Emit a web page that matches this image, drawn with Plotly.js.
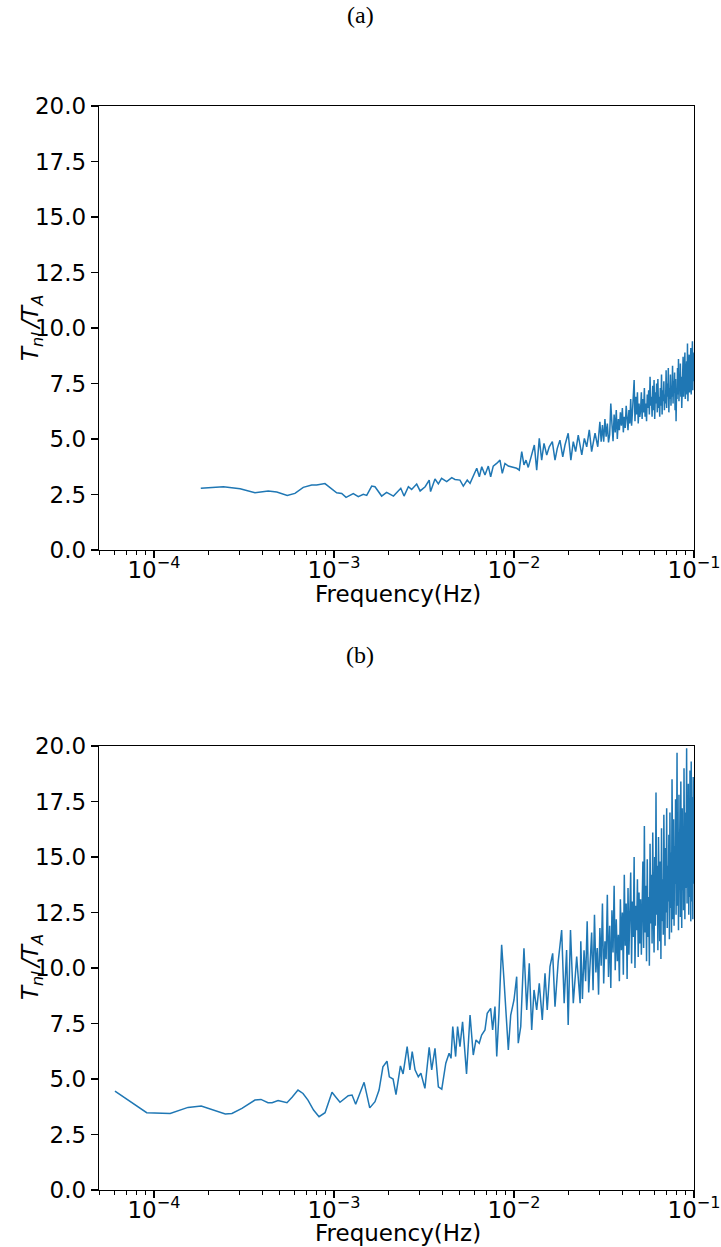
<!DOCTYPE html>
<html>
<head>
<meta charset="utf-8">
<script src="https://cdn.plot.ly/plotly-3.0.1.min.js"></script>
<style>
html,body{margin:0;padding:0;background:#fff;}
#chart{width:721px;height:1247px;}
</style>
</head>
<body>
<div id="chart"></div>
<script>
// ---------- Panel (a): low / mid frequencies ----------
const freqA_low = [
  1.82e-4, 2.43e-4, 3.01e-4, 3.64e-4, 4.31e-4, 4.81e-4, 5.50e-4, 6.07e-4, 6.75e-4, 7.52e-4,
  8.01e-4, 8.91e-4, 1.035e-3, 1.104e-3, 1.167e-3, 1.28e-3, 1.365e-3, 1.455e-3, 1.52e-3, 1.62e-3,
  1.69e-3, 1.84e-3, 1.96e-3, 2.14e-3, 2.35e-3, 2.45e-3, 2.59e-3, 2.70e-3, 2.88e-3, 3.01e-3,
  3.21e-3, 3.38e-3, 3.44e-3, 3.64e-3, 3.80e-3, 3.96e-3, 4.23e-3, 4.51e-3, 4.70e-3, 5.01e-3,
  5.23e-3, 5.50e-3, 5.70e-3, 5.94e-3, 6.21e-3, 6.42e-3, 6.62e-3, 6.90e-3, 7.20e-3, 7.42e-3,
  7.67e-3, 8.01e-3, 8.36e-3, 8.61e-3, 8.91e-3, 9.30e-3, 9.84e-3, 1.035e-2, 1.07e-2, 1.104e-2,
  1.136e-2, 1.166e-2, 1.20e-2, 1.254e-2, 1.297e-2, 1.337e-2, 1.382e-2, 1.425e-2, 1.468e-2, 1.52e-2,
  1.57e-2, 1.633e-2, 1.69e-2, 1.74e-2, 1.80e-2, 1.866e-2, 1.92e-2, 2.00e-2, 2.07e-2, 2.135e-2,
  2.20e-2, 2.275e-2, 2.38e-2, 2.46e-2, 2.535e-2, 2.62e-2, 2.70e-2, 2.82e-2, 2.92e-2, 3.00e-2,
  0.0305, 0.031, 0.0315, 0.032, 0.0325, 0.033, 0.0335, 0.034, 0.0345, 0.035,
  0.0355, 0.036, 0.0365, 0.037, 0.0375, 0.038, 0.0385, 0.039, 0.0395, 0.040,
  0.0405, 0.041, 0.0415, 0.042, 0.0425, 0.043, 0.0435, 0.044, 0.0445, 0.045,
  0.0455, 0.046, 0.0465, 0.047, 0.0475, 0.048, 0.0485, 0.049, 0.0495, 0.050
];
const ratioA_low = [
  2.78, 2.85, 2.76, 2.58, 2.66, 2.61, 2.46, 2.55, 2.82, 2.93,
  2.93, 2.99, 2.58, 2.55, 2.37, 2.54, 2.40, 2.51, 2.46, 2.88,
  2.85, 2.43, 2.60, 2.43, 2.78, 2.43, 2.85, 2.73, 2.97, 2.66,
  2.85, 3.15, 2.63, 3.20, 2.98, 3.23, 3.08, 3.26, 3.18, 3.15,
  2.88, 3.15, 3.00, 3.30, 3.68, 3.30, 3.75, 3.38, 3.78, 3.30,
  3.78, 3.90, 4.05, 3.45, 3.90, 3.78, 3.72, 3.68, 3.60, 4.43,
  3.83, 4.05, 3.72, 4.28, 4.73, 3.60, 5.03, 4.05, 4.80, 4.28,
  4.65, 4.88, 4.05, 4.58, 4.95, 4.20, 4.73, 5.26, 4.05, 4.88,
  4.43, 5.18, 4.28, 5.03, 4.65, 5.41, 4.43, 5.26, 4.65, 5.78,
  4.88, 5.63, 4.88, 5.90, 5.10, 5.70, 4.85, 5.20, 6.60, 5.70,
  4.90, 6.10, 5.30, 6.30, 5.00, 5.90, 5.40, 6.20, 5.60, 6.40,
  5.30, 6.00, 5.50, 6.50, 5.90, 5.40, 6.30, 5.70, 6.80, 5.60,
  6.20, 6.80, 7.66, 5.80, 6.90, 6.10, 7.10, 5.70, 6.60, 6.00
];

// ---------- shared high-frequency grid (Hz) ----------
const freqHigh = [
  0.0505, 0.051, 0.0515, 0.052, 0.0525, 0.053, 0.0535, 0.054, 0.0545, 0.055,
  0.0555, 0.056, 0.0565, 0.057, 0.0575, 0.058, 0.0585, 0.059, 0.0595, 0.060,
  0.0605, 0.061, 0.0615, 0.062, 0.0625, 0.063, 0.0635, 0.064, 0.0645, 0.065,
  0.0655, 0.066, 0.0665, 0.067, 0.0675, 0.068, 0.0685, 0.069, 0.0695, 0.070,
  0.0705, 0.071, 0.0715, 0.072, 0.0725, 0.073, 0.0735, 0.074, 0.0745, 0.075,
  0.0755, 0.076, 0.0765, 0.077, 0.0775, 0.078, 0.0785, 0.079, 0.0795, 0.080,
  0.0805, 0.081, 0.0815, 0.082, 0.0825, 0.083, 0.0835, 0.084, 0.0845, 0.085,
  0.0855, 0.086, 0.0865, 0.087, 0.0875, 0.088, 0.0885, 0.089, 0.0895, 0.090,
  0.0905, 0.091, 0.0915, 0.092, 0.0925, 0.093, 0.0935, 0.094, 0.0945, 0.095,
  0.0955, 0.096, 0.0965, 0.097, 0.0975, 0.098, 0.0985, 0.099, 0.0995, 0.100
];
const ratioA_high = [
  6.3, 7.1, 5.9, 6.8, 6.2, 7.3, 6.0, 6.6, 5.8, 7.0,
  6.4, 7.2, 6.1, 7.8, 6.5, 6.9, 6.0, 7.4, 6.3, 7.66,
  5.9, 7.1, 6.6, 7.5, 6.2, 7.7, 6.4, 6.9, 6.0, 7.3,
  6.5, 7.9, 6.1, 7.2, 6.7, 7.6, 6.3, 7.0, 6.6, 8.1,
  6.4, 7.5, 6.9, 8.2, 6.2, 7.3, 6.8, 7.9, 6.5, 7.4,
  6.9, 8.3, 6.6, 7.6, 7.1, 8.0, 6.3, 7.7, 5.8, 7.2,
  6.8, 8.2, 7.0, 8.6, 6.7, 7.5, 7.2, 8.4, 6.9, 7.8,
  6.4, 8.1, 7.3, 8.7, 6.9, 7.9, 7.4, 8.9, 6.8, 8.0,
  7.2, 8.5, 7.0, 9.3, 6.7, 8.2, 7.6, 8.8, 7.1, 8.4,
  7.5, 9.1, 7.0, 8.6, 7.8, 9.4, 7.2, 8.9, 7.6, 8.3
];

// ---------- Panel (b): low / mid frequencies ----------
const freqB_low = [
  6.07e-5, 9.11e-5, 1.23e-4, 1.545e-4, 1.83e-4, 2.10e-4, 2.49e-4, 2.71e-4, 3.08e-4, 3.64e-4,
  3.93e-4, 4.30e-4, 4.53e-4, 4.89e-4, 5.48e-4, 5.85e-4, 6.31e-4, 6.73e-4, 7.17e-4, 7.70e-4,
  8.26e-4, 8.92e-4, 9.75e-4, 1.02e-3, 1.08e-3, 1.20e-3, 1.26e-3, 1.32e-3, 1.47e-3, 1.58e-3,
  1.69e-3, 1.78e-3, 1.87e-3, 1.97e-3, 2.03e-3, 2.13e-3, 2.21e-3, 2.34e-3, 2.42e-3, 2.55e-3,
  2.64e-3, 2.72e-3, 2.82e-3, 2.94e-3, 3.04e-3, 3.20e-3, 3.38e-3, 3.49e-3, 3.64e-3, 3.80e-3,
  3.97e-3, 4.18e-3, 4.36e-3, 4.47e-3, 4.57e-3, 4.74e-3, 4.86e-3, 5.01e-3, 5.18e-3, 5.45e-3,
  5.70e-3, 5.94e-3, 6.15e-3, 6.41e-3, 6.61e-3, 6.90e-3, 7.10e-3, 7.42e-3, 7.61e-3, 7.84e-3,
  8.02e-3, 8.25e-3, 8.54e-3, 8.80e-3, 9.03e-3, 9.30e-3, 9.59e-3, 1.00e-2, 1.035e-2, 1.056e-2,
  1.09e-2, 1.136e-2, 1.177e-2, 1.216e-2, 1.254e-2, 1.292e-2, 1.337e-2, 1.382e-2, 1.436e-2, 1.487e-2,
  1.53e-2, 1.585e-2, 1.64e-2, 1.69e-2, 1.76e-2, 1.84e-2, 1.90e-2, 1.96e-2, 2.00e-2, 2.06e-2,
  2.135e-2, 2.23e-2, 2.33e-2,
  0.0235, 0.024, 0.0245, 0.025, 0.0255, 0.026, 0.0265, 0.027, 0.0275, 0.028,
  0.0285, 0.029, 0.0295, 0.030, 0.0305, 0.031, 0.0315, 0.032, 0.0325, 0.033,
  0.0335, 0.034, 0.0345, 0.035, 0.0355, 0.036, 0.0365, 0.037, 0.0375, 0.038,
  0.0385, 0.039, 0.0395, 0.040, 0.0405, 0.041, 0.0415, 0.042, 0.0425, 0.043,
  0.0435, 0.044, 0.0445, 0.045, 0.0455, 0.046, 0.0465, 0.047, 0.0475, 0.048,
  0.0485, 0.049, 0.0495, 0.050
];
const ratioB_low = [
  4.45, 3.48, 3.45, 3.72, 3.78, 3.62, 3.42, 3.45, 3.68, 4.05,
  4.08, 3.93, 3.93, 4.03, 3.93, 4.18, 4.50, 4.35, 4.05, 3.60,
  3.30, 3.48, 4.40, 4.20, 3.95, 4.25, 4.28, 3.86, 4.85, 3.70,
  3.98, 4.50, 5.55, 5.80, 5.10, 5.00, 4.30, 5.59, 5.23, 6.46,
  5.41, 6.23, 5.41, 5.10, 5.26, 4.58, 6.43, 5.41, 6.38, 4.65,
  4.54, 5.71, 6.16, 5.93, 7.36, 6.01, 7.36, 6.46, 7.58, 5.23,
  7.88, 6.08, 6.76, 6.61, 6.98, 7.21, 7.96, 8.18, 7.21, 8.26,
  6.01, 7.96, 11.04, 9.46, 7.96, 6.31, 7.88, 8.56, 9.61, 6.61,
  7.36, 10.89, 8.11, 10.21, 7.21, 9.01, 8.11, 9.31, 7.66, 9.76,
  8.11, 10.06, 10.66, 8.26, 10.28, 11.71, 8.41, 10.81, 7.43, 11.71,
  8.41, 10.51, 8.41,
  11.2, 8.6, 10.8, 9.4, 12.1, 8.9, 10.2, 11.6, 9.0, 12.4,
  9.8, 10.9, 8.8, 11.8, 10.1, 12.9, 9.3, 11.2, 10.4, 13.3,
  9.6, 11.9, 9.1, 12.6, 10.7, 13.7, 9.9, 12.2, 10.3, 11.5,
  9.4, 13.1, 10.8, 12.5, 9.7, 14.2, 11.0, 12.9, 9.5, 13.6,
  10.6, 12.1, 14.3, 10.2, 13.0, 11.4, 15.0, 10.0, 12.8, 11.7,
  14.0, 10.5, 13.4, 11.1
];
const ratioB_high = [
  13.1, 10.6, 12.4, 14.8, 10.9, 16.4, 11.6, 13.7, 10.3, 14.9,
  11.4, 13.2, 10.1, 15.6, 12.0, 14.2, 11.1, 16.1, 12.6, 10.7,
  15.0, 11.9, 17.9, 12.4, 14.6, 10.8, 15.9, 12.9, 11.2, 14.8,
  10.4, 16.3, 12.1, 14.0, 11.5, 16.9, 13.3, 11.0, 15.4, 12.5,
  17.2, 11.8, 14.6, 13.0, 16.0, 11.3, 17.0, 12.7, 15.2, 11.6,
  18.5, 13.4, 12.2, 16.7, 11.9, 15.5, 13.8, 17.6, 12.4, 14.9,
  19.7, 12.8, 16.1, 11.7, 17.8, 13.9, 15.0, 12.3, 18.4, 14.2,
  11.8, 17.2, 13.5, 16.4, 12.6, 19.0, 14.7, 12.2, 17.0, 13.6,
  15.8, 19.9, 12.9, 16.8, 14.1, 18.3, 12.4, 17.5, 13.2, 18.9,
  14.6, 12.1, 19.3, 15.4, 13.0, 17.7, 12.2, 18.6, 14.3, 13.8
];

// ---------- axes text ----------
const yTicks = [0, 2.5, 5, 7.5, 10, 12.5, 15, 17.5, 20];
const xTickVals = [1e-4, 1e-3, 1e-2, 1e-1];
const xTickText = ['10<sup>\u22124</sup>', '10<sup>\u22123</sup>', '10<sup>\u22122</sup>', '10<sup>\u22121</sup>'];
const xMinorVals = [
  5e-5, 6e-5, 7e-5, 8e-5, 9e-5,
  2e-4, 3e-4, 4e-4, 5e-4, 6e-4, 7e-4, 8e-4, 9e-4,
  2e-3, 3e-3, 4e-3, 5e-3, 6e-3, 7e-3, 8e-3, 9e-3,
  2e-2, 3e-2, 4e-2, 5e-2, 6e-2, 7e-2, 8e-2, 9e-2
];
const panelLabels = ['(a)', '(b)'];
const xTitle = 'Frequency(Hz)';
const yTitle = '<i>T</i><sub><i>nl</i></sub><i>\u2009/T</i><sub><i>A</i></sub>';

const lineColor = '#1f77b4';
const tickFont = {family: 'DejaVu Sans', size: 23, color: '#000'};
const titleFont = {family: 'DejaVu Sans', size: 23, color: '#000'};

function xAxis(anchor) {
  return {
    type: 'log', range: [Math.log10(4.95e-5), -1], anchor: anchor,
    showline: true, linecolor: '#000', linewidth: 1.3, mirror: true,
    ticks: 'outside', ticklen: 7, tickwidth: 1.3, tickcolor: '#000',
    tickmode: 'array', tickvals: xTickVals, ticktext: xTickText,
    tickfont: tickFont, showgrid: false, zeroline: false,
    ticklabelstandoff: -8,
    minor: {tickmode: 'array', tickvals: xMinorVals, ticks: 'outside', ticklen: 4,
            tickwidth: 1, tickcolor: '#000', showgrid: false}
  };
}
function yAxis(anchor, domain) {
  return {
    range: [0, 20], domain: domain, anchor: anchor,
    showline: true, linecolor: '#000', linewidth: 1.3, mirror: true,
    ticks: 'outside', ticklen: 7, tickwidth: 1.3, tickcolor: '#000',
    tickmode: 'array', tickvals: yTicks, tickformat: '.1f', tickfont: tickFont,
    showgrid: false, zeroline: false
  };
}

const fullA = {x: freqA_low.concat(freqHigh), y: ratioA_low.concat(ratioA_high)};
const fullB = {x: freqB_low.concat(freqHigh), y: ratioB_low.concat(ratioB_high)};

const traces = [
  {x: fullA.x, y: fullA.y, type: 'scatter', mode: 'lines', xaxis: 'x', yaxis: 'y',
   line: {color: lineColor, width: 1.5}, hoverinfo: 'skip'},
  {x: fullB.x, y: fullB.y, type: 'scatter', mode: 'lines', xaxis: 'x2', yaxis: 'y2',
   line: {color: lineColor, width: 1.5}, hoverinfo: 'skip'}
];

function ann(text, x, y, extra) {
  return Object.assign({text: text, xref: 'paper', yref: 'paper', x: x, y: y,
    showarrow: false, xanchor: 'center', yanchor: 'middle', font: titleFont}, extra || {});
}

const layout = {
  width: 721, height: 1247,
  margin: {l: 99, r: 27, t: 106, b: 57},
  paper_bgcolor: '#fff', plot_bgcolor: '#fff',
  showlegend: false,
  xaxis: xAxis('y'),
  yaxis: yAxis('x', [0.5904, 1]),
  xaxis2: xAxis('y2'),
  yaxis2: yAxis('x2', [0, 0.4096]),
  annotations: [
    ann(panelLabels[0], 0.4387, 1.084, {font: {family: 'Liberation Serif', size: 24, color: '#000'}}),
    ann(panelLabels[1], 0.4387, 0.4935, {font: {family: 'Liberation Serif', size: 24, color: '#000'}}),
    ann(xTitle, 0.5025, 0.5498),
    ann(xTitle, 0.5025, -0.0396),
    ann(yTitle, -0.1126, 0.7952, {textangle: -90}),
    ann(yTitle, -0.1126, 0.2057, {textangle: -90})
  ]
};

Plotly.newPlot('chart', traces, layout, {staticPlot: true, displayModeBar: false});
</script>
</body>
</html>
